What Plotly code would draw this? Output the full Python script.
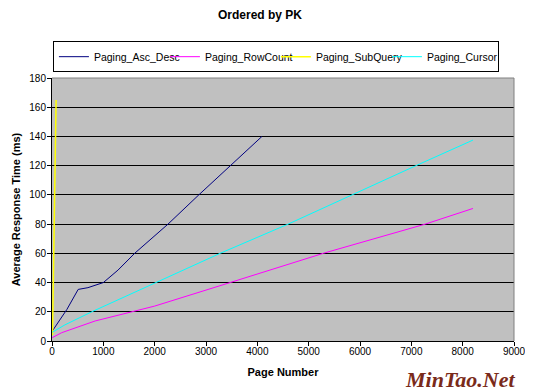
import plotly.graph_objects as go

# Data
asc_desc_x = [6, 290, 510, 700, 1000, 1285, 1610, 1866, 2260, 2860, 3470, 4090]
asc_desc_y = [6.8, 21.6, 35.3, 36.5, 40, 48.5, 60, 68, 80, 100, 120, 140]

rowcount_x = [6, 190, 840, 1614, 2000, 3470, 5283, 7271, 8200]
rowcount_y = [2.3, 5.7, 13.7, 20.5, 23.9, 40, 60, 80, 90.7]

subquery_x = [10, 80]
subquery_y = [4, 165]

cursor_x = [6, 250, 775, 2000, 3275, 4600, 5830, 7090, 8200]
cursor_y = [6, 11, 20, 39.4, 60, 80, 100, 120, 137.5]

x_ticks = [0, 1000, 2000, 3000, 4000, 5000, 6000, 7000, 8000, 9000]
y_ticks = [0, 20, 40, 60, 80, 100, 120, 140, 160, 180]

FONT = "Liberation Sans, Arial, sans-serif"

fig = go.Figure()
series = [
    ("Paging_Asc_Desc", asc_desc_x, asc_desc_y, "#000080", 1),
    ("Paging_RowCount", rowcount_x, rowcount_y, "#FF00FF", 1),
    ("Paging_SubQuery", subquery_x, subquery_y, "#FFFF00", 1.5),
    ("Paging_Cursor", cursor_x, cursor_y, "#00FFFF", 1),
]
for name, xs, ys, col, w in series:
    fig.add_trace(go.Scatter(x=xs, y=ys, name=name, mode="lines",
                             line=dict(color=col, width=w)))

# The page body has an 8px default margin, so the figure is sized 8px smaller.
fig.update_layout(
    width=525, height=384,
    margin=dict(l=44, r=19, t=70, b=51, autoexpand=False),
    paper_bgcolor="white",
    plot_bgcolor="#C0C0C0",
    font=dict(family=FONT, size=10, color="black"),
    title=dict(text="<b>Ordered by PK</b>", x=0.48, xref="container",
               y=0.982, yref="container", yanchor="middle",
               font=dict(size=12, family=FONT)),
    showlegend=True,
    legend=dict(orientation="h", x=0.002, xanchor="left", y=1.14, yanchor="top",
                bordercolor="black", borderwidth=1, bgcolor="white",
                font=dict(size=10.5, family=FONT), itemwidth=30,
                entrywidth=66, entrywidthmode="pixels",
                tracegroupgap=0),
    xaxis=dict(range=[0, 9000], tickvals=x_ticks, showgrid=False, zeroline=False,
               showline=True, linecolor="black", linewidth=1,
               ticks="outside", ticklen=4, tickcolor="black", automargin=False,
               ticklabelstandoff=-3,
               title=dict(text="<b>Page Number</b>", font=dict(size=11), standoff=12)),
    yaxis=dict(range=[0, 180], tickvals=y_ticks, showgrid=True, gridcolor="black",
               gridwidth=1, zeroline=False, showline=True, linecolor="black",
               linewidth=1, ticks="outside", ticklen=4, tickcolor="black",
               automargin=False, ticklabelstandoff=-1,
               title=dict(text="<b>Average Response Time (ms)</b>", font=dict(size=11),
                          standoff=6)),
    shapes=[
        dict(type="line", xref="paper", yref="paper", x0=0, x1=1, y0=1, y1=1,
             line=dict(color="#808080", width=1), layer="above"),
        dict(type="line", xref="paper", yref="paper", x0=1, x1=1, y0=0, y1=1,
             line=dict(color="#808080", width=1), layer="above"),
    ],
    annotations=[dict(text="<b><i>MinTao.Net</i></b>", xref="paper", yref="paper",
                      x=1.006, y=-0.1445, xanchor="right", yanchor="middle",
                      showarrow=False,
                      font=dict(family="Liberation Serif, DejaVu Serif, serif",
                                size=22, color="#7A2A1A"))],
)

fig.write_html("out.html")
